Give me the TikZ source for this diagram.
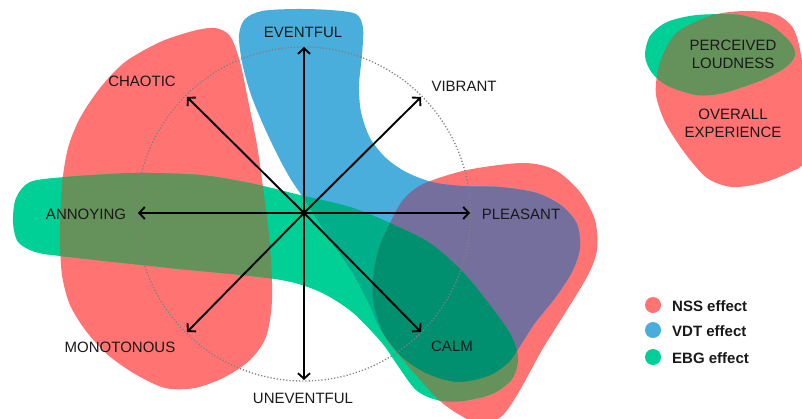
\documentclass[tikz,border=0pt]{standalone}
\usepackage{fontspec}
\setmainfont{Liberation Sans}
\usetikzlibrary{arrows.meta,positioning}
\definecolor{nss}{HTML}{FF7373}
\definecolor{vdt}{HTML}{4AAEDC}
\definecolor{ebg}{HTML}{00CF96}
\definecolor{olive}{HTML}{65915B}
\definecolor{violet}{HTML}{756F9E}
\definecolor{teal}{HTML}{00AE8A}
\definecolor{deep}{HTML}{009070}
\tikzset{axis/.style={line width=1.9pt,-{Straight Barb[length=5.5pt,width=12pt,line width=1.9pt]}},
  ring/.style={draw=black!50,line width=1.3pt,dash pattern=on 1.2pt off 2pt},
  lab/.style={font=\fontsize{15}{18}\selectfont,text=black!90,inner sep=0pt},
  key/.style={font=\fontsize{15}{18}\selectfont\bfseries,text=black!90,inner sep=0pt,anchor=west}}
% blobs
\def\nssleft{plot[smooth cycle] coordinates {(215,28) (230,36) (240,62) (249,105) (257,145) (264,195) (270,245) (272,300) (266,337) (250,360) (225,377) (195,388) (165,388) (135,374) (108,355) (86,331) (70,305) (62,275) (60,235) (62,185) (68,148) (80,118) (100,88) (125,62) (160,42) (193,31)}}
\def\nssright{plot[smooth cycle] coordinates {(423,184) (467,170) (523,163) (555,170) (580,192) (595,220) (597,250) (588,275) (567,310) (542,350) (520,390) (502,416) (480,424) (458,414) (440,401) (424,384) (403,360) (384,335) (374,305) (373,278) (379,248) (390,223) (403,200)}}
\def\vdt{plot[smooth cycle] coordinates {(239,35) (242,62) (250,92) (262,122) (276,152) (290,178) (306,202) (330,240) (352,272) (368,302) (381,330) (402,357) (428,374) (458,382) (488,376) (508,363) (520,346) (535,323) (555,298) (572,272) (580,248) (577,224) (562,206) (537,193) (500,187) (462,186) (432,182) (406,172) (386,158) (370,138) (361,112) (359,85) (362,55) (363,28) (356,14) (330,10) (295,9) (262,11) (245,19)}}
\def\ebg{plot[smooth cycle] coordinates {(30,182) (65,177) (135,173) (200,175) (250,183) (300,195) (350,207) (390,223) (430,243) (463,272) (490,305) (511,335) (518,358) (512,379) (492,394) (462,401) (437,400) (416,390) (398,366) (382,343) (352,312) (318,291) (275,279) (170,268) (60,256) (35,252) (18,242) (13,222) (16,198)}}
\def\nsskey{plot[smooth cycle] coordinates {(680,30) (713,15) (745,11) (775,14) (793,28) (801,55) (805,100) (804,160) (790,172) (762,183) (732,187) (707,178) (684,152) (665,122) (656,95) (658,70) (666,48)}}
\def\ebgkey{plot[smooth cycle] coordinates {(650,36) (667,22) (697,15) (740,15) (770,25) (790,42) (795,55) (786,67) (762,80) (723,93) (697,95) (668,86) (652,73) (645,56)}}

\begin{document}
\begin{tikzpicture}[x=1pt,y=-1pt]
\useasboundingbox (0,0) rectangle (802,418);
\clip (0,0) rectangle (802,418);
\fill[nss] \nssleft;
\fill[nss] \nssright;
\fill[nss] \nsskey;
\fill[vdt] \vdt;
\fill[ebg] \ebg;
\fill[ebg] \ebgkey;
\begin{scope}
  \clip \nssleft;
  \fill[olive] \ebg;
\end{scope}
\begin{scope}
  \clip \vdt;
  \fill[teal] \ebg;
\end{scope}
\begin{scope}
  \clip \nssright;
  \fill[violet] \vdt;
  \fill[olive] \ebg;
  \clip \vdt;
  \fill[deep] \ebg;
\end{scope}
\begin{scope}
  \clip \nsskey;
  \fill[olive] \ebgkey;
\end{scope}

% circumplex
\coordinate (c) at (304,213);
\draw[ring] (303.5,214) circle[radius=167];
\foreach \n/\x/\y in {n/304/47,ne/421/97,e/470/213,se/421/332,s/304/380,sw/187/332,w/138/213,nw/187/97}{
  \coordinate (tip\n) at (\x,\y);
  \draw[axis] (c) -- (tip\n);
}
\node[lab] (eventful) at (303,32) {EVENTFUL};
\node[lab] (vibrant) at (464,86) {VIBRANT};
\node[lab] (pleasant) at (521,214) {PLEASANT};
\node[lab] (calm) at (452,346) {CALM};
\node[lab] (uneventful) at (303,398) {UNEVENTFUL};
\node[lab] (monotonous) at (120,347) {MONOTONOUS};
\node[lab] (annoying) at (86,214) {ANNOYING};
\node[lab] (chaotic) at (142,81) {CHAOTIC};

% key blobs
\node[lab,align=center] (loud) at (733,54) {PERCEIVED\\LOUDNESS};
\node[lab,align=center] (overall) at (733,123) {OVERALL\\EXPERIENCE};

% legend
\fill[nss] (653,305) circle[radius=8] coordinate (dotnss);
\fill[vdt] (653,330) circle[radius=8] coordinate (dotvdt);
\fill[ebg] (653,357) circle[radius=8] coordinate (dotebg);
\node[key] (keynss) at (672,306) {NSS effect};
\node[key] (keyvdt) at (672,331) {VDT effect};
\node[key] (keyebg) at (672,358) {EBG effect};
\end{tikzpicture}
\end{document}
